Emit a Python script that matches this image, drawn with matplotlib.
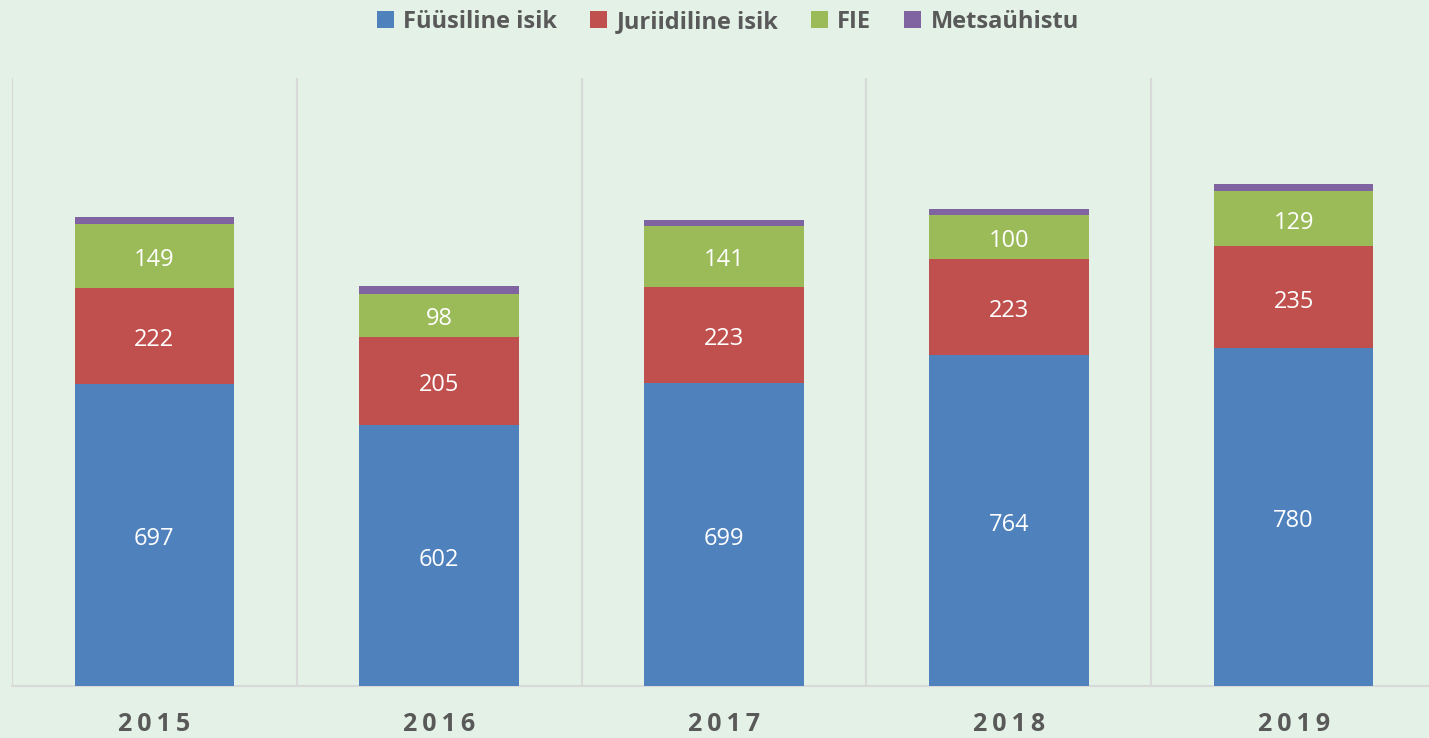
import matplotlib.pyplot as plt
import numpy as np

# andmed
years = ["2015", "2016", "2017", "2018", "2019"]
fyysiline = [697, 602, 699, 764, 780]
juriidiline = [222, 205, 223, 223, 235]
fie = [149, 98, 141, 100, 129]
metsayhistu = [16, 18, 14, 14, 16]

series = [
    ("Füüsiline isik", fyysiline, "#4F81BD"),
    ("Juriidiline isik", juriidiline, "#C0504D"),
    ("FIE", fie, "#9BBB59"),
    ("Metsaühistu", metsayhistu, "#8064A2"),
]

bg = "#E3F1E6"
plt.rcParams["font.family"] = ["Open Sans", "DejaVu Sans"]

fig = plt.figure(figsize=(14.29, 7.38), dpi=100, facecolor=bg)
W, H = 1429, 738
ax = fig.add_axes([12 / W, 1 - 686 / H, (1436 - 12) / W, (686 - 78) / H])
ax.set_facecolor(bg)

x = np.arange(len(years))
bottom = np.zeros(len(years))
for name, vals, color in series:
    bars = ax.bar(x, vals, width=0.56, bottom=bottom, color=color, label=name, zorder=3)
    if name != "Metsaühistu":
        for b, v in zip(bars, vals):
            ax.annotate(str(v), (b.get_x() + b.get_width() / 2, b.get_y() + b.get_height() / 2),
                        xytext=(0, -3), textcoords="offset points",
                        ha="center", va="center", color="white", fontsize=17, zorder=4)
    bottom += np.array(vals)

ax.set_xlim(-0.5, len(years) - 0.5)
ax.set_ylim(0, 1404)
ax.set_yticks([])
ax.set_xticks(x)
ax.set_xticklabels(["\u2009".join(y) for y in years], fontsize=18, fontweight="bold", color="#595959")
ax.tick_params(axis="x", length=0, pad=19)

# vertikaalsed jooned kategooriate vahel
for b in np.arange(-0.5, len(years), 1.0):
    ax.axvline(b, color="#D9D9D9", linewidth=1.5, zorder=1)

for s in ["top", "right", "left"]:
    ax.spines[s].set_visible(False)
ax.spines["bottom"].set_color("#D9D9D9")
ax.spines["bottom"].set_linewidth(1.5)

fig.legend(loc="center", bbox_to_anchor=(728 / W, 1 - 22 / H), ncol=4, frameon=False,
           prop={"size": 17, "weight": "bold"}, labelcolor="#595959",
           handlelength=0.7, handleheight=0.7, handletextpad=0.4, columnspacing=1.4)

fig.savefig("out.png", dpi=100, facecolor=bg)
